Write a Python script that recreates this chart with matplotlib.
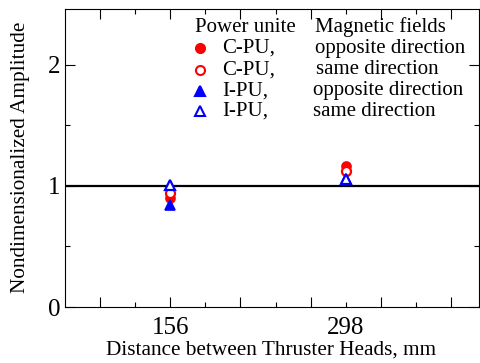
import matplotlib
matplotlib.use("Agg")
import matplotlib.pyplot as plt
from matplotlib.ticker import FixedLocator, MultipleLocator
from matplotlib.lines import Line2D

plt.rcParams['font.family'] = ['Liberation Serif', 'DejaVu Serif']
plt.rcParams['mathtext.fontset'] = 'stix'

# Data
distances = [156, 298]
cpu_opposite = [0.90, 1.16]
cpu_same = [0.94, 1.12]
ipu_opposite = [0.84, 1.06]
ipu_same = [1.01, 1.06]
xtick_labels = ['156', '298']

legend_header = ['Power unite', 'Magnetic fields']
legend_units = ['C-PU,', 'C-PU,', 'I-PU,', 'I-PU,']
legend_fields = ['opposite direction', 'same direction', 'opposite direction', 'same direction']

W, H = 480, 363
fig = plt.figure(figsize=(W / 100, H / 100), dpi=100)
ax = fig.add_axes([65 / W, 1 - 307 / H, (479 - 65) / W, (307 - 9) / H])

step = (distances[1] - distances[0]) / 2.5
ax.set_xlim(distances[0] - 1.5 * step, distances[0] + 4.4 * step)
ax.set_ylim(0, 2.46)

ax.axhline(1.0, color='black', lw=1.6, zorder=1)

ms = 6.5
ax.plot(distances, cpu_opposite, 'o', color='red', ms=ms, mec='red', mew=1.2, zorder=3)
ax.plot(distances, cpu_same, 'o', color='red', ms=ms, mfc='white', mec='red', mew=1.6, zorder=4)
ax.plot(distances, ipu_opposite, '^', color='blue', ms=ms + 1, mec='blue', mew=1.2, zorder=5)
ax.plot(distances, ipu_same, '^', color='blue', ms=ms + 1, mfc='white', mec='blue', mew=1.6, zorder=6)

# ticks
major = [distances[0] + k * step for k in range(-1, 5)]
minor = [distances[0] + (k + 0.5) * step for k in range(-1, 5)]
ax.xaxis.set_major_locator(FixedLocator(major))
ax.xaxis.set_minor_locator(FixedLocator(minor))
ax.set_xticklabels([''] * len(major))
ax.yaxis.set_major_locator(MultipleLocator(1))
ax.yaxis.set_minor_locator(MultipleLocator(0.5))
ax.tick_params(which='both', direction='in', top=True, right=True, width=0.8)
ax.tick_params(which='major', length=7)
ax.tick_params(which='minor', length=3.5)
ax.tick_params(axis='y', which='major', labelsize=18, pad=3)

sec = ax.secondary_xaxis('bottom')
sec.set_xticks(distances)
sec.set_xticklabels(xtick_labels, fontsize=18)
sec.tick_params(length=0, pad=7)
sec.spines['bottom'].set_visible(False)

for s in ax.spines.values():
    s.set_linewidth(0.8)


def fx(x):
    return x / W


def fy(y):
    return 1 - y / H


fig.text(fx(271), fy(350), 'Distance between Thruster Heads, mm', fontsize=15.3,
         ha='center', va='center')
fig.text(fx(21), fy(157), 'Nondimensionalized Amplitude', fontsize=15.3,
         ha='center', va='center', rotation=90)

# custom legend
fs = 15
fig.text(fx(195), fy(27), legend_header[0], fontsize=fs, va='center', ha='left')
fig.text(fx(315), fy(27), legend_header[1], fontsize=fs, va='center', ha='left')
rows_y = [48, 70, 91, 111]
markers = [('o', 'red', 'red'), ('o', 'white', 'red'), ('^', 'blue', 'blue'), ('^', 'white', 'blue')]
field_x = [315, 316, 313, 313]
for i, y in enumerate(rows_y):
    m, fc, ec = markers[i]
    fig.add_artist(Line2D([fx(200)], [fy(y)], marker=m, ms=ms if m == 'o' else ms + 0.5,
                          mfc=fc, mec=ec, mew=1.5, ls='none', transform=fig.transFigure))
    fig.text(fx(222), fy(y), legend_units[i], fontsize=fs, va='center', ha='left')
    fig.text(fx(field_x[i]), fy(y), legend_fields[i], fontsize=fs, va='center', ha='left')

fig.savefig('out.png', dpi=100)
